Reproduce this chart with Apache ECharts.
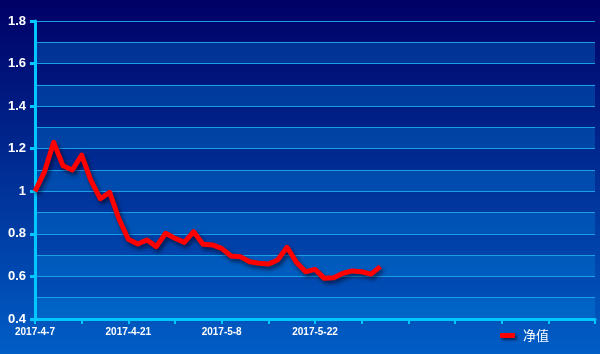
<!DOCTYPE html>
<html>
<head>
<meta charset="utf-8">
<script src="https://cdn.jsdelivr.net/npm/echarts@6/dist/echarts.min.js"></script>
<style>
  html, body { margin: 0; padding: 0; }
  #chart { width: 600px; height: 354px; }
</style>
</head>
<body>
<div id="chart"></div>
<script>
// 交易日（后面空位留给未到的日期）
const dates = [
  '2017-4-7', '2017-4-10', '2017-4-11', '2017-4-12', '2017-4-13', '2017-4-14',
  '2017-4-17', '2017-4-18', '2017-4-19', '2017-4-20', '2017-4-21',
  '2017-4-24', '2017-4-25', '2017-4-26', '2017-4-27', '2017-4-28',
  '2017-5-2', '2017-5-3', '2017-5-4', '2017-5-5', '2017-5-8',
  '2017-5-9', '2017-5-10', '2017-5-11', '2017-5-12', '2017-5-15',
  '2017-5-16', '2017-5-17', '2017-5-18', '2017-5-19', '2017-5-22',
  '2017-5-23', '2017-5-24', '2017-5-25', '2017-5-26', '2017-5-31',
  '2017-6-1', '2017-6-2'
];
const emptySlots = 23;

// 净值
const netValue = [
  1.00, 1.09, 1.23, 1.12, 1.10, 1.17, 1.05, 0.965, 0.995, 0.87, 0.775,
  0.752, 0.771, 0.74, 0.803, 0.779, 0.76, 0.81, 0.751, 0.748, 0.732,
  0.696, 0.693, 0.669, 0.662, 0.658, 0.677, 0.737, 0.667, 0.622, 0.633,
  0.591, 0.594, 0.615, 0.626, 0.622, 0.611, 0.646
];

const seriesName = '净值';

const categories = dates.concat(new Array(emptySlots).fill(''));

const axisCyan = '#00c8ff';
const gridLine = '#1a9ee6';

const chart = echarts.init(document.getElementById('chart'));

chart.setOption({
  backgroundColor: {
    type: 'linear', x: 0, y: 0, x2: 0, y2: 1,
    colorStops: [
      { offset: 0, color: '#000066' },
      { offset: 1, color: '#005ec6' }
    ]
  },
  animation: false,
  grid: { left: 35, right: 5, top: 21, bottom: 35 },
  legend: {
    right: 46,
    bottom: 7,
    icon: 'roundRect',
    itemWidth: 15,
    itemHeight: 5,
    itemGap: 8,
    itemStyle: {
      color: '#ff0000',
      shadowColor: 'rgba(0,0,20,0.6)',
      shadowBlur: 3,
      shadowOffsetX: 2,
      shadowOffsetY: 2
    },
    textStyle: { color: '#ffffff', fontSize: 13, fontFamily: 'Noto Sans CJK SC', padding: [0, 0, 0, 3] },
    data: [seriesName]
  },
  xAxis: {
    type: 'category',
    boundaryGap: false,
    data: categories,
    axisLine: { lineStyle: { color: axisCyan, width: 3 } },
    axisTick: { interval: 4, length: 5, lineStyle: { color: axisCyan, width: 2 } },
    axisLabel: {
      interval: 9,
      color: '#ffffff',
      fontWeight: 'bold',
      fontSize: 10,
      fontFamily: 'Arial',
      margin: 8
    },
    splitLine: { show: false }
  },
  yAxis: [
    {
      type: 'value',
      min: 0.4,
      max: 1.8,
      interval: 0.2,
      axisLine: { show: true, lineStyle: { color: axisCyan, width: 3 } },
      axisTick: { show: true, length: 5, lineStyle: { color: axisCyan, width: 3 } },
      axisLabel: {
        color: '#ffffff',
        fontWeight: 'bold',
        fontSize: 13,
        fontFamily: 'Arial',
        margin: 9
      },
      splitLine: { show: false }
    },
    {
      type: 'value',
      min: 0.4,
      max: 1.8,
      interval: 0.1,
      position: 'left',
      axisLine: { show: false },
      axisTick: { show: false },
      axisLabel: { show: false },
      splitLine: { show: true, lineStyle: { color: gridLine, width: 1 } },
      splitArea: {
        show: true,
        areaStyle: { color: ['rgba(0,140,225,0.3)', 'rgba(0,0,0,0)'] }
      }
    }
  ],
  series: [
    {
      name: seriesName,
      type: 'line',
      data: netValue,
      showSymbol: false,
      symbol: 'none',
      z: 5,
      lineStyle: {
        color: '#ff0000',
        width: 5,
        join: 'round',
        shadowColor: 'rgba(0,0,20,0.6)',
        shadowBlur: 4,
        shadowOffsetX: 2,
        shadowOffsetY: 3
      },
      itemStyle: { color: '#ff0000' }
    }
  ]
});
</script>
</body>
</html>
